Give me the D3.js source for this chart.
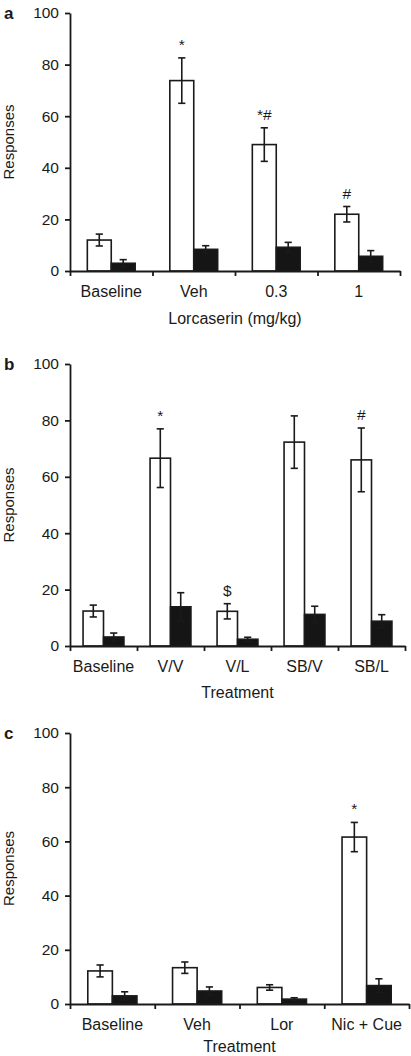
<!DOCTYPE html>
<html>
<head>
<meta charset="utf-8">
<script src="https://cdn.jsdelivr.net/npm/d3@7"></script>
<style>
html,body{margin:0;padding:0;background:#fff;}
svg{display:block;}
text{font-family:"Liberation Sans",Arial,Helvetica,sans-serif;fill:#1a1a1a;}
</style>
</head>
<body>
<svg id="chart" width="411" height="1056"></svg>
<script>
// ---------- DATA ----------
const yTicks = [0, 20, 40, 60, 80, 100];

const categoriesA = ["Baseline", "Veh", "0.3", "1"];
const whiteA = [12, 73.8, 49, 22];
const whiteErrA = [2.3, 8.8, 6.5, 3];
const blackA = [3, 8.4, 9.2, 5.7];
const blackErrA = [1.4, 1.4, 1.9, 2.2];
const annotA = ["", "*", "*#", "#"];

const categoriesB = ["Baseline", "V/V", "V/L", "SB/V", "SB/L"];
const whiteB = [12.4, 66.6, 12.3, 72.3, 66];
const whiteErrB = [2.1, 10.4, 2.7, 9.3, 11.3];
const blackB = [3.2, 13.9, 2.4, 11.2, 8.8];
const blackErrB = [1.4, 5, 0.7, 2.9, 2.3];
const annotB = ["", "*", "$", "", "#"];

const categoriesC = ["Baseline", "Veh", "Lor", "Nic + Cue"];
const whiteC = [12.2, 13.4, 6.1, 61.6];
const whiteErrC = [2.2, 2.1, 1, 5.4];
const blackC = [3, 4.8, 1.8, 6.8];
const blackErrC = [1.5, 1.5, 0.5, 2.5];
const annotC = ["", "", "", "*"];

// ---------- LAYOUT ----------
const panels = [
  {letter: "a", cats: categoriesA, w: whiteA, we: whiteErrA, b: blackA, be: blackErrA, ann: annotA,
   title: "Lorcaserin (mg/kg)", y0: 271, y100: 13, left: 70, right: 400, titleDy: 47, barFrac: 0.29},
  {letter: "b", cats: categoriesB, w: whiteB, we: whiteErrB, b: blackB, be: blackErrB, ann: annotB,
   title: "Treatment", y0: 646, y100: 364, left: 70, right: 405, titleDy: 46, barFrac: 0.305},
  {letter: "c", cats: categoriesC, w: whiteC, we: whiteErrC, b: blackC, be: blackErrC, ann: annotC,
   title: "Treatment", y0: 1004, y100: 733, left: 70, right: 409, titleDy: 42, barFrac: 0.29}
];

const svg = d3.select("#chart");
const ink = "#1a1a1a";

panels.forEach(p => {
  const g = svg.append("g");
  const n = p.cats.length;
  const y = d3.scaleLinear().domain([0, 100]).range([p.y0, p.y100]);
  const xb = d3.scaleBand().domain(p.cats).range([p.left, p.right]).paddingInner(0).paddingOuter(0);
  const xi = d3.scaleLinear().domain([0, n]).range([p.left, p.right]);
  const bw = xb.bandwidth() * p.barFrac;

  // y axis
  const ya = g.append("g").attr("transform", `translate(${p.left},0)`)
    .call(d3.axisLeft(y).tickValues(yTicks).tickSize(5).tickSizeOuter(0).tickPadding(6));
  ya.select(".domain").attr("stroke", ink).attr("stroke-width", 1.8);
  ya.selectAll(".tick line").attr("stroke", ink).attr("stroke-width", 1.8);
  ya.selectAll(".tick text").style("font-size", "15.5px").attr("fill", ink);

  // bars
  const data = p.cats.map((c, i) => ({c, i, w: p.w[i], we: p.we[i], b: p.b[i], be: p.be[i], ann: p.ann[i]}));
  const cx = d => xb(d.c) + xb.bandwidth() / 2;

  g.selectAll(".wbar").data(data).join("rect")
    .attr("x", d => cx(d) - bw).attr("y", d => y(d.w))
    .attr("width", bw).attr("height", d => y(0) - y(d.w))
    .attr("fill", "#fff").attr("stroke", ink).attr("stroke-width", 1.6);
  g.selectAll(".bbar").data(data).join("rect")
    .attr("x", d => cx(d)).attr("y", d => y(d.b))
    .attr("width", bw).attr("height", d => y(0) - y(d.b))
    .attr("fill", "#151515").attr("stroke", ink).attr("stroke-width", 1.6);

  // error bars
  const cap = 3.6;
  const errs = [];
  data.forEach(d => {
    errs.push({x: cx(d) - bw / 2, v: d.w, e: d.we});
    errs.push({x: cx(d) + bw / 2, v: d.b, e: d.be});
  });
  const eg = g.selectAll(".err").data(errs).join("g").attr("stroke", ink).attr("stroke-width", 1.6);
  eg.append("line").attr("x1", d => d.x).attr("x2", d => d.x)
    .attr("y1", d => y(d.v + d.e)).attr("y2", d => y(d.v - d.e));
  eg.append("line").attr("x1", d => d.x - cap).attr("x2", d => d.x + cap)
    .attr("y1", d => y(d.v + d.e)).attr("y2", d => y(d.v + d.e));
  eg.append("line").attr("x1", d => d.x - cap).attr("x2", d => d.x + cap)
    .attr("y1", d => y(d.v - d.e)).attr("y2", d => y(d.v - d.e));

  // annotations
  g.selectAll(".ann").data(data.filter(d => d.ann)).join("text")
    .attr("x", d => cx(d) - bw / 2).attr("y", d => y(d.w + d.we) - 8)
    .attr("text-anchor", "middle").style("font-size", "15.5px")
    .text(d => d.ann);

  // x axis (boundary ticks)
  const xa = g.append("g").attr("transform", `translate(0,${p.y0})`)
    .call(d3.axisBottom(xi).tickValues(d3.range(n + 1)).tickSize(5).tickSizeOuter(0).tickFormat(""));
  xa.select(".domain").attr("stroke", ink).attr("stroke-width", 1.8);
  xa.selectAll(".tick line").attr("stroke", ink).attr("stroke-width", 1.8);

  // x labels
  g.selectAll(".xl").data(p.cats).join("text")
    .attr("x", c => xb(c) + xb.bandwidth() / 2).attr("y", p.y0 + 20)
    .attr("dy", "0.35em").attr("text-anchor", "middle").style("font-size", "16px")
    .text(c => c);

  // x title
  g.append("text")
    .attr("x", (p.left + p.right) / 2).attr("y", p.y0 + p.titleDy)
    .attr("dy", "0.35em").attr("text-anchor", "middle").style("font-size", "16px")
    .text(p.title);

  // y title
  g.append("text")
    .attr("transform", `translate(9,${(p.y0 + p.y100) / 2}) rotate(-90)`)
    .attr("dy", "0.35em").attr("text-anchor", "middle").style("font-size", "15px")
    .text("Responses");

  // panel letter
  g.append("text").attr("x", 4).attr("y", p.y100).attr("dy", "0.35em")
    .style("font-size", "17px").style("font-weight", "bold")
    .text(p.letter);
});
</script>
</body>
</html>
